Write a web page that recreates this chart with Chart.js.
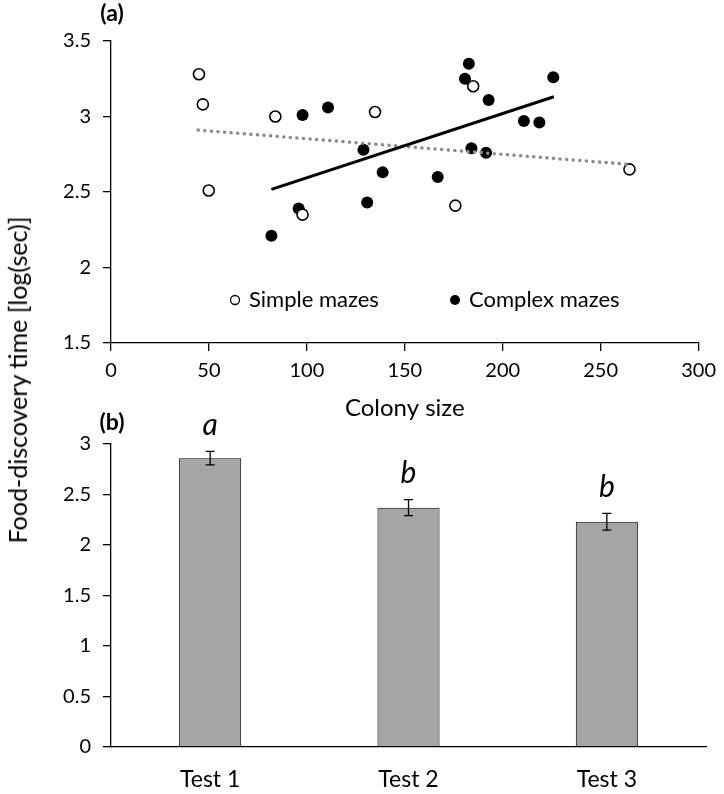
<!DOCTYPE html>
<html>
<head>
<meta charset="utf-8">
<script src="https://cdn.jsdelivr.net/npm/chart.js@4"></script>
<style>
  html, body { margin: 0; padding: 0; background: #fff; }
  body { width: 724px; height: 794px; position: relative; overflow: hidden; font-family: Lato, sans-serif; }
  .box { position: absolute; left: 0; width: 724px; }
  .lbl { position: absolute; transform: translate(-50%, -50%); white-space: nowrap; color: #000; }
</style>
</head>
<body>
<div class="box" style="top:0;height:425px"><canvas id="chartA"></canvas></div>
<div class="box" style="top:395px;height:399px"><canvas id="chartB"></canvas></div>
<div class="lbl" style="left:112px;top:12px;font-weight:bold;font-size:23px">(a)</div>
<div class="lbl" style="left:112px;top:421px;font-weight:bold;font-size:23px">(b)</div>
<div class="lbl" style="left:17px;top:380px;font-size:25px;transform:translate(-50%,-50%) rotate(-90deg)">Food-discovery time [log(sec)]</div>
<script>
// panel (a): colony size vs log food-discovery time
const simpleX = [44.9, 46.9, 49.9, 83.9, 97.8, 134.8, 175.8, 184.9, 264.7];
const simpleY = [3.28, 3.08, 2.51, 3.00, 2.35, 3.03, 2.41, 3.20, 2.65];
const complexX = [81.9, 95.8, 97.8, 110.8, 128.9, 130.8, 138.7, 166.8, 180.7, 182.7, 184.0, 191.5, 192.8, 210.8, 218.7, 225.8];
const complexY = [2.21, 2.39, 3.01, 3.06, 2.78, 2.43, 2.63, 2.60, 3.25, 3.35, 2.79, 2.76, 3.11, 2.97, 2.96, 3.26];
// trend line end points
const simpleTrendX = [44.5, 263.4];
const simpleTrendY = [2.91, 2.684];
const complexTrendX = [81.9, 226.1];
const complexTrendY = [2.517, 3.131];
const legendNames = ['Simple mazes', 'Complex mazes'];

// panel (b): tests
const tests = ['Test 1', 'Test 2', 'Test 3'];
const meanTime = [2.86, 2.37, 2.23];
const seTime = [0.066, 0.079, 0.083];
const letters = ['a', 'b', 'b'];

const FONT = 'Lato';
const pts = (xs, ys) => xs.map((x, i) => ({ x: x, y: ys[i] }));

const legendA = {
  id: 'legendA',
  afterDraw(chart) {
    const ctx = chart.ctx, a = chart.chartArea;
    const y = a.top + 259;
    ctx.save();
    ctx.font = '22px ' + FONT;
    ctx.fillStyle = '#000';
    ctx.textBaseline = 'middle';
    ctx.lineWidth = 1.3;
    ctx.strokeStyle = '#000';
    ctx.beginPath(); ctx.arc(a.left + 124, y, 4.5, 0, Math.PI * 2); ctx.stroke();
    ctx.fillText(legendNames[0], a.left + 138, y);
    ctx.beginPath(); ctx.arc(a.left + 344, y, 5, 0, Math.PI * 2); ctx.fill();
    ctx.fillText(legendNames[1], a.left + 358, y);
    ctx.restore();
  }
};

new Chart(document.getElementById('chartA'), {
  type: 'scatter',
  data: {
    datasets: [
      { type: 'line', data: pts(complexTrendX, complexTrendY), borderColor: '#000', borderWidth: 3,
        pointRadius: 0, order: 0 },
      { type: 'line', data: pts(simpleTrendX, simpleTrendY), borderColor: '#8c8c8c', borderWidth: 3.5,
        borderDash: [0.1, 6.5], borderCapStyle: 'round', pointRadius: 0, order: 0 },
      { label: legendNames[0], data: pts(simpleX, simpleY), pointRadius: 5.5, pointBorderWidth: 1.6,
        pointBackgroundColor: '#fff', pointBorderColor: '#000', order: 1 },
      { label: legendNames[1], data: pts(complexX, complexY), pointRadius: 6, pointBorderWidth: 0,
        pointBackgroundColor: '#000', pointBorderColor: '#000', order: 2 }
    ]
  },
  options: {
    responsive: true,
    maintainAspectRatio: false,
    animation: false,
    layout: { padding: { top: 41, right: 18, left: 0, bottom: 0 } },
    plugins: { legend: { display: false }, tooltip: { enabled: false } },
    scales: {
      x: {
        type: 'linear', min: 0, max: 300,
        ticks: { stepSize: 50, color: '#000', padding: 8, font: { family: FONT, size: 20 } },
        grid: { drawOnChartArea: false, tickLength: 8, color: '#000', lineWidth: 1.3 },
        border: { color: '#000', width: 1.3 },
        title: { display: true, text: 'Colony size', color: '#000', font: { family: FONT, size: 24 },
                 padding: { top: 0, bottom: 2 } },
        afterFit(s) { s.height = 82; }
      },
      y: {
        min: 1.5, max: 3.5,
        ticks: { stepSize: 0.5, color: '#000', padding: 12, font: { family: FONT, size: 20 },
                 callback: v => String(v) },
        grid: { drawOnChartArea: false, tickLength: 8, color: '#000', lineWidth: 1.3 },
        border: { color: '#000', width: 1.3 },
        afterFit(s) { s.width = 111; }
      }
    }
  },
  plugins: [legendA]
});

const errorBars = {
  id: 'errorBars',
  afterDatasetsDraw(chart) {
    const ctx = chart.ctx, ys = chart.scales.y;
    const meta = chart.getDatasetMeta(0);
    ctx.save();
    ctx.strokeStyle = '#000';
    ctx.lineWidth = 1.3;
    meta.data.forEach((bar, i) => {
      const top = ys.getPixelForValue(meanTime[i] + seTime[i]);
      const bot = ys.getPixelForValue(meanTime[i] - seTime[i]);
      ctx.beginPath();
      ctx.moveTo(bar.x, top); ctx.lineTo(bar.x, bot);
      ctx.moveTo(bar.x - 4.5, top); ctx.lineTo(bar.x + 4.5, top);
      ctx.moveTo(bar.x - 4.5, bot); ctx.lineTo(bar.x + 4.5, bot);
      ctx.stroke();
      ctx.fillStyle = '#000';
      ctx.font = 'italic 30px ' + FONT;
      ctx.textAlign = 'center';
      ctx.textBaseline = 'middle';
      ctx.fillText(letters[i], bar.x, top - 26);
    });
    ctx.restore();
  }
};

new Chart(document.getElementById('chartB'), {
  type: 'bar',
  data: {
    labels: tests,
    datasets: [{ data: meanTime, backgroundColor: '#a5a5a5', borderColor: '#000', borderWidth: 1,
                 barPercentage: 0.313, categoryPercentage: 1 }]
  },
  options: {
    responsive: true,
    maintainAspectRatio: false,
    animation: false,
    layout: { padding: { top: 49, right: 18, left: 0, bottom: 0 } },
    plugins: { legend: { display: false }, tooltip: { enabled: false } },
    scales: {
      x: {
        ticks: { color: '#000', padding: 11, font: { family: FONT, size: 23 } },
        grid: { display: false },
        border: { color: '#000', width: 1.3 },
        afterFit(s) { s.height = 47; }
      },
      y: {
        min: 0, max: 3,
        ticks: { stepSize: 0.5, color: '#000', padding: 12, font: { family: FONT, size: 20 },
                 callback: v => String(v) },
        grid: { drawOnChartArea: false, tickLength: 8, color: '#000', lineWidth: 1.3 },
        border: { color: '#000', width: 1.3 },
        afterFit(s) { s.width = 111; }
      }
    }
  },
  plugins: [errorBars]
});
</script>
</body>
</html>
